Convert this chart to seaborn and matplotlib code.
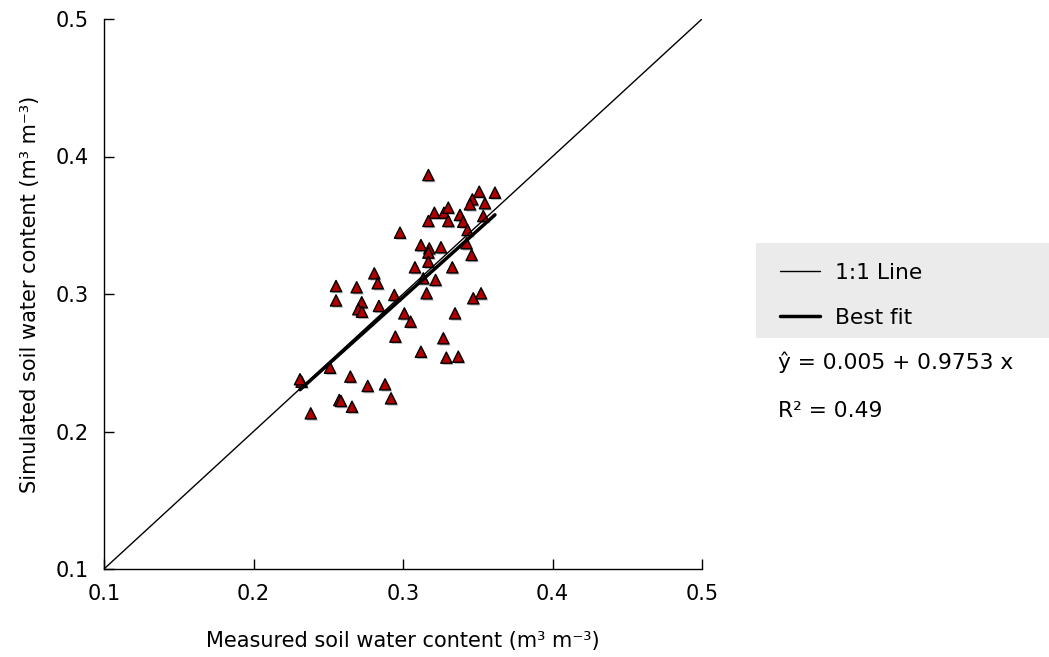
import numpy as np
import pandas as pd
import seaborn as sns
import matplotlib.pyplot as plt
from matplotlib.lines import Line2D
from matplotlib.patches import Rectangle
import matplotlib.patheffects as pe

# measured vs simulated soil water content (m3 m-3)
measured = [0.3170, 0.3510, 0.3615, 0.3464, 0.3448, 0.3548, 0.3537, 0.3210, 0.3274, 0.3303,
            0.3170, 0.3303, 0.3381, 0.3403, 0.3432, 0.2980, 0.3425, 0.3120, 0.3176, 0.3254,
            0.3170, 0.3459, 0.3170, 0.3080, 0.3330, 0.2808, 0.2831, 0.3136, 0.3218, 0.2942,
            0.3158, 0.3470, 0.3522, 0.2839, 0.3009, 0.3051, 0.3348, 0.2949, 0.3270, 0.3120,
            0.3290, 0.3370, 0.2764, 0.2880, 0.2920, 0.2552, 0.2690, 0.2552, 0.2724, 0.2701,
            0.2726, 0.2512, 0.2648, 0.2322, 0.2311, 0.2574, 0.2585, 0.2659, 0.2383]
simulated = [0.3865, 0.3744, 0.3737, 0.3688, 0.3652, 0.3660, 0.3567, 0.3591, 0.3591, 0.3628,
             0.3531, 0.3531, 0.3575, 0.3526, 0.3465, 0.3446, 0.3369, 0.3356, 0.3332, 0.3340,
             0.3301, 0.3284, 0.3235, 0.3194, 0.3194, 0.3150, 0.3078, 0.3114, 0.3102, 0.2993,
             0.3005, 0.2969, 0.3005, 0.2913, 0.2859, 0.2799, 0.2859, 0.2690, 0.2678, 0.2580,
             0.2537, 0.2544, 0.2331, 0.2343, 0.2241, 0.3058, 0.3049, 0.2953, 0.2940, 0.2889,
             0.2871, 0.2464, 0.2399, 0.2362, 0.2380, 0.2229, 0.2222, 0.2180, 0.2132]

intercept = 0.005
slope = 0.9753
r2 = 0.49
ticks = [0.1, 0.2, 0.3, 0.4, 0.5]

df = pd.DataFrame({'measured': measured, 'simulated': simulated})

sns.set_style('ticks', {'xtick.direction': 'in', 'ytick.direction': 'in',
                        'text.color': 'black', 'axes.labelcolor': 'black',
                        'xtick.color': 'black', 'ytick.color': 'black',
                        'axes.edgecolor': 'black'})
plt.rcParams['font.family'] = ['DejaVu Sans']
plt.rcParams['font.size'] = 15

fig = plt.figure(figsize=(10.49, 6.57), dpi=100)
ax = fig.add_axes([104 / 1049, 88 / 657, 598 / 1049, 550 / 657])

# points with a soft drop shadow
sns.scatterplot(data=df, x='measured', y='simulated', marker='^', s=65,
                color='#b00000', edgecolor='black', linewidth=1.0, ax=ax, zorder=2)
ax.collections[0].set_path_effects([
    pe.SimplePatchShadow(offset=(1.2, -1.2), shadow_rgbFace='#888888', alpha=0.6),
    pe.Normal()])

# 1:1 line and best fit
ax.plot([ticks[0], ticks[-1]], [ticks[0], ticks[-1]], color='black', lw=1.0, zorder=3)
xfit = np.array([df['measured'].min(), df['measured'].max()])
ax.plot(xfit, intercept + slope * xfit, color='black', lw=2.5, zorder=3)

ax.set_xlim(ticks[0], ticks[-1])
ax.set_ylim(ticks[0], ticks[-1])
ax.set_xticks(ticks)
ax.set_yticks(ticks)
ax.set_xticklabels([f'{t:.1f}' for t in ticks])
ax.set_yticklabels([f'{t:.1f}' for t in ticks])
ax.tick_params(direction='in', length=7, width=1, pad=11, labelsize=15, colors='black')
sns.despine(ax=ax)
for s in ['left', 'bottom']:
    ax.spines[s].set_color('black')
    ax.spines[s].set_linewidth(1.0)

ax.set_xlabel('Measured soil water content (m³ m⁻³)', fontsize=15, labelpad=19, color='black')
ax.set_ylabel('Simulated soil water content (m³ m⁻³)', fontsize=15, labelpad=11, color='black')

# legend on grey panel at right
fig.patches.append(Rectangle((756 / 1049, 1 - 338 / 657), 1 - 756 / 1049, 95 / 657,
                             transform=fig.transFigure, facecolor='#ebebeb',
                             edgecolor='none', zorder=0))
handles = [Line2D([], [], color='black', lw=1.0), Line2D([], [], color='black', lw=2.5)]
leg = fig.legend(handles, ['1:1 Line', 'Best fit'], loc='upper left',
                 bbox_to_anchor=(760 / 1049, 1 - 243 / 657), frameon=False, fontsize=15.7,
                 handlelength=1.85, handletextpad=0.7, labelspacing=1.15)
for t in leg.get_texts():
    t.set_color('black')

fig.text(778 / 1049, 1 - 362 / 657, f'ŷ = {intercept} + {slope} x', fontsize=15.7,
         va='center', color='black')
fig.text(778 / 1049, 1 - 411 / 657, f'R² = {r2}', fontsize=15.7, va='center', color='black')

fig.savefig('out.png', dpi=100)
